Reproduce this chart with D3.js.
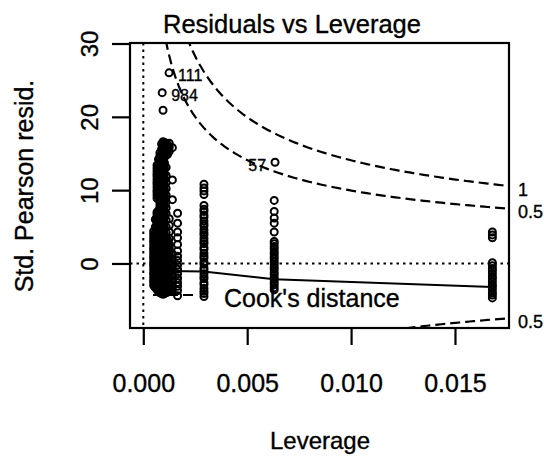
<!DOCTYPE html>
<html lang="en">
<head>
<meta charset="UTF-8">
<script src="https://d3js.org/d3.v7.min.js"></script>
<style>
  body { margin: 0; background: #fff; }
  text { font-family: "Liberation Sans", Arial, sans-serif; fill: #000; stroke: #000; stroke-width: 0.35px; }
</style>
</head>
<body>
<svg id="chart" width="544" height="457"></svg>
<script>
// leverage of each vertical column of points (hat values)
const columnLeverage = [0.0005, 0.00058, 0.00066, 0.00073, 0.0008, 0.00088, 0.00095, 0.00102, 0.0011, 0.00117,
  0.00125, 0.0014, 0.00165, 0.00292, 0.0063, 0.0168];

// std. Pearson residuals in each column
const columnResiduals = [
  [-3.0, -2.6, -2.3, -1.9, -1.5, -1.2, -0.8, -0.4, -0.1, 0.3, 0.7, 1.0, 1.4, 1.8, 2.1, 2.5, 2.9, 3.2, 3.6, 4.0, 4.4],
  [-3.3, -2.8, -2.4, -2.0, -1.6, -1.0, -0.6, -0.2, 0.5, 0.9, 1.6, 2.0, 2.7, 3.1, 3.8, 4.2, 5.0, 6.0],
  [-3.6, -3.2, -2.9, -2.5, -2.1, -1.8, -1.4, -1.0, -0.7, -0.3, 0.1, 0.4, 0.8, 1.2, 1.5, 1.9, 2.3, 2.6, 3.0, 3.4, 3.7, 4.1, 4.5, 4.8,
   5.2, 5.6, 5.9, 6.3, 6.7, 7.0, 8.9, 9.3, 9.7, 10.0, 10.4, 10.8, 11.1, 11.5, 11.9, 12.2, 12.6, 13.0, 13.4],
  [-3.8, -3.4, -2.7, -2.3, -1.6, -1.2, -0.5, 0.0, 0.6, 1.0, 1.7, 2.1, 2.8, 3.2, 3.9, 4.3, 5.0, 5.4, 6.1, 6.5, 7.2, 9.1, 9.8,
   10.6, 11.3, 12.0, 12.8, 13.5, 14.2],
  [-4.0, -3.6, -3.3, -2.9, -2.5, -2.2, -1.8, -1.4, -1.1, -0.7, -0.3, 0.0, 0.4, 0.8, 1.1, 1.5, 1.9, 2.2, 2.6, 3.0, 3.3, 3.7, 4.1, 4.4,
   4.8, 5.2, 5.5, 5.9, 6.3, 6.6, 7.0, 7.4, 7.7, 8.1, 8.5, 8.8, 9.2, 9.6, 9.9, 10.3, 10.7, 11.0, 11.4, 11.8, 12.1, 12.5, 12.9, 13.2,
   13.6, 14.0, 14.3, 14.7, 15.1],
  [-4.1, -3.4, -2.7, -2.0, -1.2, -0.5, 0.2, 0.9, 1.7, 2.4, 3.2, 3.9, 4.6, 5.4, 6.1, 6.8, 7.6, 8.3, 9.0, 9.8, 10.5, 11.2, 12.0,
   12.7, 13.4, 14.2, 14.9, 15.6, 16.3],
  [-4.2, -3.8, -3.5, -3.1, -2.7, -2.4, -2.0, -1.6, -1.3, -0.9, -0.5, -0.2, 0.2, 0.6, 0.9, 1.3, 1.7, 2.0, 2.4, 2.8, 3.1, 3.5, 3.9, 4.2,
   4.6, 5.0, 5.3, 5.7, 6.1, 6.4, 6.8, 7.2, 7.5, 7.9, 8.3, 8.6, 9.0, 9.4, 9.7, 10.1, 10.5, 10.8, 11.2, 11.6, 11.9, 12.3, 12.7, 13.0,
   13.4, 13.8, 14.1, 14.5, 14.9, 15.2, 15.6, 16.0, 16.3, 16.6, 20.9],
  [-4.1, -3.4, -2.6, -1.9, -1.2, -0.4, 0.3, 1.0, 1.8, 2.5, 3.3, 4.0, 4.8, 5.5, 6.3, 7.0, 7.8, 8.5, 9.2, 10.0, 10.7, 11.5, 12.2,
   13.0, 13.7, 14.5, 15.2, 15.9, 16.5],
  [-4.0, -3.6, -3.2, -2.9, -2.5, -2.1, -1.8, -1.4, -1.0, -0.6, -0.3, 0.1, 0.5, 0.8, 1.2, 1.6, 2.0, 2.3, 2.7, 3.1, 3.5, 4.2, 5.0, 5.9,
   6.8, 7.6, 8.4, 9.3, 10.2, 11.0, 12.0, 13.1, 14.8, 15.2, 15.6, 16.0, 16.4],
  [-3.9, -3.3, -2.6, -2.0, -1.3, -0.7, 0.0, 0.6, 1.3, 1.9, 2.6, 3.2, 14.9, 15.7, 16.2],
  [-3.8, -3.4, -3.0, -2.7, -2.3, -1.9, -1.5, -1.2, -0.8, -0.4, 0.0, 0.3, 0.7, 1.1, 1.5, 1.8, 2.2, 2.6, 3.4, 4.3, 5.2, 6.1, 15.3, 15.9, 16.4],
  [-3.6, -3.0, -2.3, -1.6, -0.9, -0.2, 0.5, 1.3, 8.7, 11.4, 15.8],
  [6.85, 5.5, 4.3, 3.5, 2.6, 1.7, 1.0, 0.4, -0.2, -0.8, -1.4, -2.0, -2.6, -3.1, -3.7, -4.4],
  [10.8, 10.3, 9.9, 9.4, 7.9, 7.4, 7.1, 6.6, 6.3, 5.8, 5.4, 5.1, 4.6, 4.2, 3.9, 3.4, 3.0, 2.7, 2.2, 1.9, 1.4, 1.0, 0.7, 0.2,
   -0.1, -0.6, -0.9, -1.4, -1.8, -2.1, -2.6, -2.9, -3.4, -3.8, -4.1, -4.5],
  [8.6, 7.1, 6.2, 5.5, 4.3, 3.0, 2.7, 2.3, 2.0, 1.6, 1.3, 0.9, 0.6, 0.2, -0.1, -0.5, -0.8, -1.2, -1.5, -1.9, -2.2, -2.6, -2.9, -3.3, -3.6],
  [4.3, 3.9, 3.5, 0.1, -0.3, -0.7, -1.0, -1.4, -1.8, -2.1, -2.5, -2.9, -3.2, -3.6, -4.0, -4.3, -4.7]
];

// labelled observations
const idLabels = ["111", "984", "57"];
const idLeverage = [0.00124, 0.00091, 0.00634];
const idResiduals = [26.0, 23.3, 13.8];

// smoother through the residuals
const smoothLeverage = [0.0004, 0.0029, 0.0063, 0.0168];
const smoothResiduals = [-1.0, -1.1, -2.15, -3.2];

// Cook's distance contours
const cookLevels = [0.5, 1];
const nCoef = 2;

const xTicks = [0, 0.005, 0.010, 0.015];
const yTicks = [0, 10, 20, 30];

const plot = { left: 130, right: 509, top: 43, bottom: 328 };
const svg = d3.select("#chart");

const x = d3.scaleLinear().domain([-0.00064, 0.0176]).range([plot.left, plot.right]);
const y = d3.scaleLinear().domain([-8.8, 30.07]).range([plot.bottom, plot.top]);

svg.append("defs").append("clipPath").attr("id", "clip")
  .append("rect")
  .attr("x", plot.left).attr("y", plot.top)
  .attr("width", plot.right - plot.left).attr("height", plot.bottom - plot.top);

// dotted reference lines at 0
svg.append("line")
  .attr("x1", plot.left).attr("x2", plot.right)
  .attr("y1", y(0)).attr("y2", y(0))
  .attr("stroke", "#000").attr("stroke-width", 2).attr("stroke-dasharray", "2.5,4");
svg.append("line")
  .attr("x1", x(0)).attr("x2", x(0))
  .attr("y1", plot.top).attr("y2", plot.bottom)
  .attr("stroke", "#000").attr("stroke-width", 2).attr("stroke-dasharray", "2.5,4");

// points
const points = columnLeverage.flatMap((h, i) => columnResiduals[i].map(r => ({ h, r })));
idLeverage.forEach((h, i) => points.push({ h, r: idResiduals[i] }));

svg.append("g")
  .selectAll("circle")
  .data(points)
  .join("circle")
  .attr("cx", d => x(d.h))
  .attr("cy", d => y(d.r))
  .attr("r", 3.5)
  .attr("fill", "none")
  .attr("stroke", "#000")
  .attr("stroke-width", 2);

// smoother
svg.append("path")
  .datum(smoothLeverage.map((h, i) => [h, smoothResiduals[i]]))
  .attr("fill", "none")
  .attr("stroke", "#000")
  .attr("stroke-width", 2)
  .attr("d", d3.line().x(d => x(d[0])).y(d => y(d[1])));

// Cook's distance curves
const hMin = d3.min(columnLeverage), hMax = x.domain()[1];
const hh = d3.range(101).map(i => hMin + (hMax - hMin) * i / 100);
const cookLine = d3.line().x(d => x(d[0])).y(d => y(d[1]));
const cookG = svg.append("g").attr("clip-path", "url(#clip)");
cookLevels.forEach(level => {
  [1, -1].forEach(sign => {
    cookG.append("path")
      .datum(hh.map(h => [h, sign * Math.sqrt(level * nCoef * (1 - h) / h)]))
      .attr("fill", "none")
      .attr("stroke", "#000")
      .attr("stroke-width", 2.2)
      .attr("stroke-dasharray", "10,5")
      .attr("d", cookLine);
  });
});

// level labels on the right side
cookLevels.forEach(level => {
  [1, -1].forEach(sign => {
    const v = sign * Math.sqrt(level * nCoef * (1 - hMax) / hMax);
    if (v < y.domain()[0] || v > y.domain()[1]) return;
    svg.append("text")
      .attr("x", plot.right + 9)
      .attr("y", y(v) + 5)
      .attr("dominant-baseline", "middle")
      .style("font-size", "18px")
      .text(level);
  });
});

// box
svg.append("rect")
  .attr("x", plot.left).attr("y", plot.top)
  .attr("width", plot.right - plot.left).attr("height", plot.bottom - plot.top)
  .attr("fill", "none").attr("stroke", "#000").attr("stroke-width", 2.2);

// id labels
const idMid = d3.mean(d3.extent(idLeverage));
idLabels.forEach((lab, i) => {
  const left = idLeverage[i] > idMid;
  svg.append("text")
    .attr("x", x(idLeverage[i]) + (left ? -9 : 9))
    .attr("y", y(idResiduals[i]) + 4)
    .attr("text-anchor", left ? "end" : "start")
    .attr("dominant-baseline", "middle")
    .style("font-size", "16px")
    .text(lab);
});

// legend
svg.append("line")
  .attr("x1", 153).attr("x2", 195).attr("y1", 295).attr("y2", 295)
  .attr("stroke", "#000").attr("stroke-width", 2.2).attr("stroke-dasharray", "10,5");
svg.append("text")
  .attr("x", 224).attr("y", 307)
  .style("font-size", "25px")
  .text("Cook's distance");

// axes
const xAxis = svg.append("g")
  .attr("transform", `translate(0,${plot.bottom})`)
  .call(d3.axisBottom(x).tickValues(xTicks).tickFormat(d3.format(".3f")).tickSize(17).tickPadding(29))
  .attr("font-size", 25);
xAxis.select(".domain").remove();
xAxis.selectAll(".tick line").attr("stroke-width", 2.2);

const yAxis = svg.append("g")
  .attr("transform", `translate(${plot.left},0)`)
  .call(d3.axisLeft(y).tickValues(yTicks).tickSize(18))
  .attr("font-size", 24);
yAxis.select(".domain").remove();
yAxis.selectAll(".tick line").attr("stroke-width", 2.2);
yAxis.selectAll(".tick text")
  .attr("x", null).attr("dy", null)
  .attr("text-anchor", "middle")
  .attr("transform", "translate(-32,0) rotate(-90)");

// titles
svg.append("text")
  .attr("x", 292).attr("y", 33)
  .attr("text-anchor", "middle")
  .style("font-size", "25.5px")
  .text("Residuals vs Leverage");

svg.append("text")
  .attr("x", 320).attr("y", 449)
  .attr("text-anchor", "middle")
  .style("font-size", "24px")
  .text("Leverage");

svg.append("text")
  .attr("transform", "translate(33,186) rotate(-90)")
  .attr("text-anchor", "middle")
  .style("font-size", "25px")
  .text("Std. Pearson resid.");
</script>
</body>
</html>
